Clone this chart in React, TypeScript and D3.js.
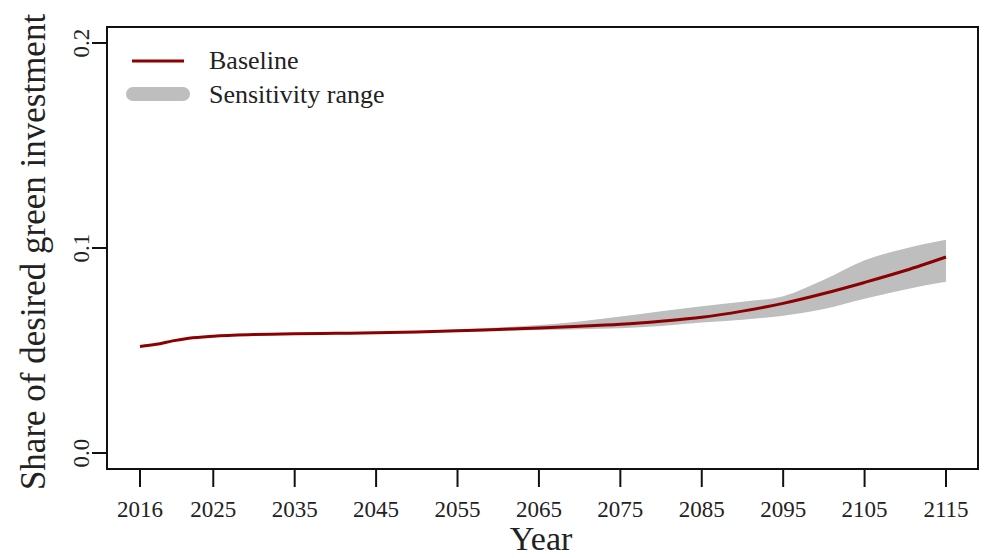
import React from "react";
import * as d3 from "d3";

const years = [2016, 2018, 2020, 2022, 2025, 2030, 2035, 2040, 2045, 2050, 2055, 2060, 2065, 2070, 2075, 2080, 2085, 2090, 2095, 2100, 2105, 2110, 2115];
const baseline = [0.052, 0.053, 0.0547, 0.056, 0.057, 0.0578, 0.0582, 0.0584, 0.0586, 0.059, 0.0596, 0.0603, 0.061, 0.0618, 0.0628, 0.0643, 0.0662, 0.0692, 0.073, 0.0778, 0.0832, 0.089, 0.0956];
const upper = [0.0522, 0.0532, 0.0549, 0.0562, 0.0572, 0.058, 0.0584, 0.0586, 0.0588, 0.0594, 0.0602, 0.0612, 0.0624, 0.0642, 0.0666, 0.0692, 0.0716, 0.0738, 0.0765, 0.0845, 0.094, 0.0998, 0.104];
const lower = [0.0518, 0.0528, 0.0545, 0.0558, 0.0568, 0.0576, 0.058, 0.0582, 0.0584, 0.0587, 0.0591, 0.0596, 0.06, 0.0604, 0.0609, 0.062, 0.0636, 0.065, 0.067, 0.0702, 0.0752, 0.0798, 0.0835];
const xTicks = [2016, 2025, 2035, 2045, 2055, 2065, 2075, 2085, 2095, 2105, 2115];
const yTicks = [0.0, 0.1, 0.2];
const legendLabels = ["Baseline", "Sensitivity range"];

const FONT = "'Liberation Serif', 'Times New Roman', serif";

export default function App() {
  const W = 991, H = 558;
  const box = { l: 107, r: 978, t: 27, b: 469 };
  const x = d3.scaleLinear().domain([2016, 2115]).range([140, 946]);
  const y = d3.scaleLinear().domain([0, 0.2]).range([453, 43]);
  const rows = years.map((yr, i) => ({ yr, b: baseline[i], u: upper[i], l: lower[i] }));
  const area = d3.area<any>().x(d => x(d.yr)).y0(d => y(d.l)).y1(d => y(d.u)).curve(d3.curveMonotoneX);
  const line = d3.line<any>().x(d => x(d.yr)).y(d => y(d.b)).curve(d3.curveMonotoneX);

  return (
    <svg width={W} height={H} style={{ position: "absolute", left: 0, top: 0, background: "#fff" }} fontFamily={FONT}>
      <rect x={0} y={0} width={W} height={H} fill="#fff" />
      <path d={area(rows) || ""} fill="#BEBEBE" stroke="none" />
      <path d={line(rows) || ""} fill="none" stroke="#8B0000" strokeWidth={3} />
      <rect x={box.l} y={box.t} width={box.r - box.l} height={box.b - box.t} fill="none" stroke="#111" strokeWidth={2} />
      {xTicks.map(t => (
        <g key={t}>
          <line x1={x(t)} x2={x(t)} y1={box.b} y2={box.b + 18} stroke="#111" strokeWidth={2} />
          <text x={x(t)} y={517} textAnchor="middle" fontSize={23} fill="#222">{t}</text>
        </g>
      ))}
      {yTicks.map(t => (
        <g key={t}>
          <line x1={box.l} x2={box.l - 15} y1={y(t)} y2={y(t)} stroke="#111" strokeWidth={2} />
          <text transform={`translate(89,${y(t)}) rotate(-90)`} textAnchor="middle" fontSize={23} fill="#222">{t.toFixed(1)}</text>
        </g>
      ))}
      <text x={541} y={550} textAnchor="middle" fontSize={34} fill="#222">Year</text>
      <text transform={`translate(45,252) rotate(-90)`} textAnchor="middle" fontSize={35} fill="#222">Share of desired green investment</text>
      <line x1={132} x2={184} y1={61} y2={61} stroke="#8B0000" strokeWidth={3} />
      <line x1={133} x2={183} y1={94} y2={94} stroke="#BEBEBE" strokeWidth={14} strokeLinecap="round" />
      <text x={209} y={69} fontSize={26} fill="#222">{legendLabels[0]}</text>
      <text x={209} y={103} fontSize={26} fill="#222">{legendLabels[1]}</text>
    </svg>
  );
}
